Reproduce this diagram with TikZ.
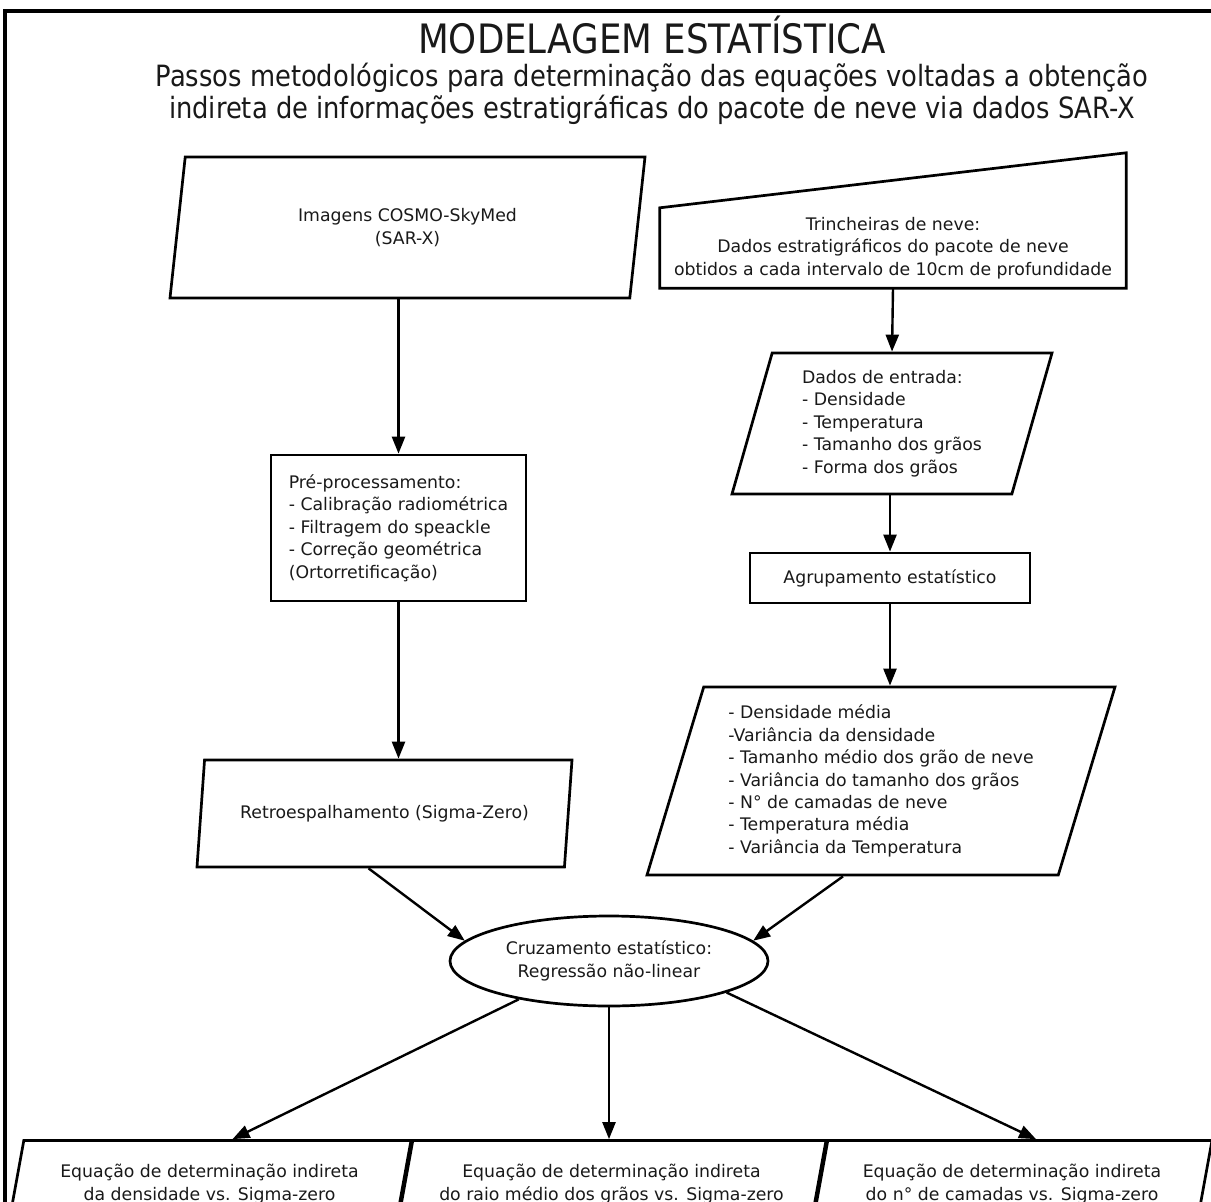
\documentclass[tikz,border=0pt]{standalone}
\usepackage{fontspec}
\setmainfont{DejaVu Sans}
\newfontfamily\condfont{DejaVu Sans}[FakeStretch=0.88]
\usetikzlibrary{arrows.meta}
\usetikzlibrary{shapes.geometric}
\newcommand\boxfont{\fontsize{17.3}{22.4}\selectfont}

\begin{document}
\begin{tikzpicture}[x=1pt,y=-1pt,>={Triangle[length=17pt,width=13pt]},
  every node/.style={font=\boxfont,text=black!90,align=center},
  box/.style={draw,line width=2.7pt,rectangle,inner sep=3pt},
  para/.style={draw,line width=2.7pt,trapezium,trapezium left angle=70,
    trapezium right angle=110,trapezium stretches body,inner sep=2pt},
  arr/.style={->,line width=2.4pt}]
\useasboundingbox (0,0) rectangle (1211,1202);
\clip (0,0) rectangle (1211,1202);
%moldura (so topo e lado esquerdo aparecem)
\draw[line width=4pt] (1240,11) -- (5,11) -- (5,1240);

%titulo
\node[font=\condfont\fontsize{40.5}{44}\selectfont] (title) at (652,35) {MODELAGEM ESTATÍSTICA};
\node[font=\condfont\fontsize{29.3}{32}\selectfont] (sub) at (652,94)
  {Passos metodológicos para determinação das equações voltadas a obtenção\\
   indireta de informações estratigráficas do pacote de neve via dados SAR-X};

%coluna esquerda
\node[para,minimum width=475,minimum height=141] (img) at (407.5,227.5)
  {Imagens COSMO-SkyMed\\(SAR-X)};
\node[box,minimum width=255,minimum height=146,align=left] (pre) at (398.5,528)
  {Pré-processamento:\\- Calibração radiométrica\\- Filtragem do speackle\\- Correção geométrica\\(Ortorretificação)};
\node[para,minimum width=375,minimum height=107] (ret) at (384.5,813.5)
  {Retroespalhamento (Sigma-Zero)};

%coluna direita
\node[minimum width=466,minimum height=80] (trc) at (893,248)
  {Trincheiras de neve:\\Dados estratigráficos do pacote de neve\\obtidos a cada intervalo de 10cm de profundidade};
\draw[line width=2.7pt] (trc.south west) -- (trc.north west) -- ([yshift=55pt]trc.north east) -- (trc.south east) -- cycle;
\node[para,minimum width=320,minimum height=141,align=left] (dad) at (892,423.5)
  {Dados de entrada:\\- Densidade\\- Temperatura\\- Tamanho dos grãos\\- Forma dos grãos};
\node[box,minimum width=280,minimum height=50] (agr) at (890,578) {Agrupamento estatístico};
\node[para,minimum width=468,minimum height=188,align=left] (big) at (881,781)
  {- Densidade média\\-Variância da densidade\\- Tamanho médio dos grão de neve\\- Variância do tamanho dos grãos\\- N° de camadas de neve\\- Temperatura média\\- Variância da Temperatura};

%cruzamento
\node[draw,ellipse,line width=2.7pt,minimum width=318,minimum height=90,inner sep=0pt] (cruz) at (609,961)
  {Cruzamento estatístico:\\Regressão não-linear};

%equacoes
\node[para,minimum width=403,minimum height=87] (eqa) at (209.5,1184)
  {Equação de determinação indireta\\da densidade vs. Sigma-zero};
\node[para,minimum width=429,minimum height=87] (eqb) at (611.5,1184)
  {Equação de determinação indireta\\do raio médio dos grãos vs. Sigma-zero};
\node[para,minimum width=400,minimum height=87] (eqc) at (1012,1184)
  {Equação de determinação indireta\\do n° de camadas vs. Sigma-zero};

%setas
\draw[arr] (pre.north |- img.south) -- (pre.north);
\draw[arr] (pre.south) -- (pre.south |- ret.north);
\draw[arr] (trc.south) -- (dad.north);
\draw[arr] (agr.north |- dad.south) -- (agr.north);
\draw[arr] (agr.south) -- (agr.south |- big.north);
\draw[arr] ([xshift=-16pt]ret.south) -- (cruz.172);
\draw[arr] ([xshift=-38pt]big.south) -- (cruz.8);
\draw[arr] (cruz.203) -- ([xshift=23pt]eqa.north);
\draw[arr] (cruz.south) -- (cruz.south |- eqb.north);
\draw[arr] (cruz.-15) -- ([xshift=24pt]eqc.north);
\end{tikzpicture}
\end{document}
